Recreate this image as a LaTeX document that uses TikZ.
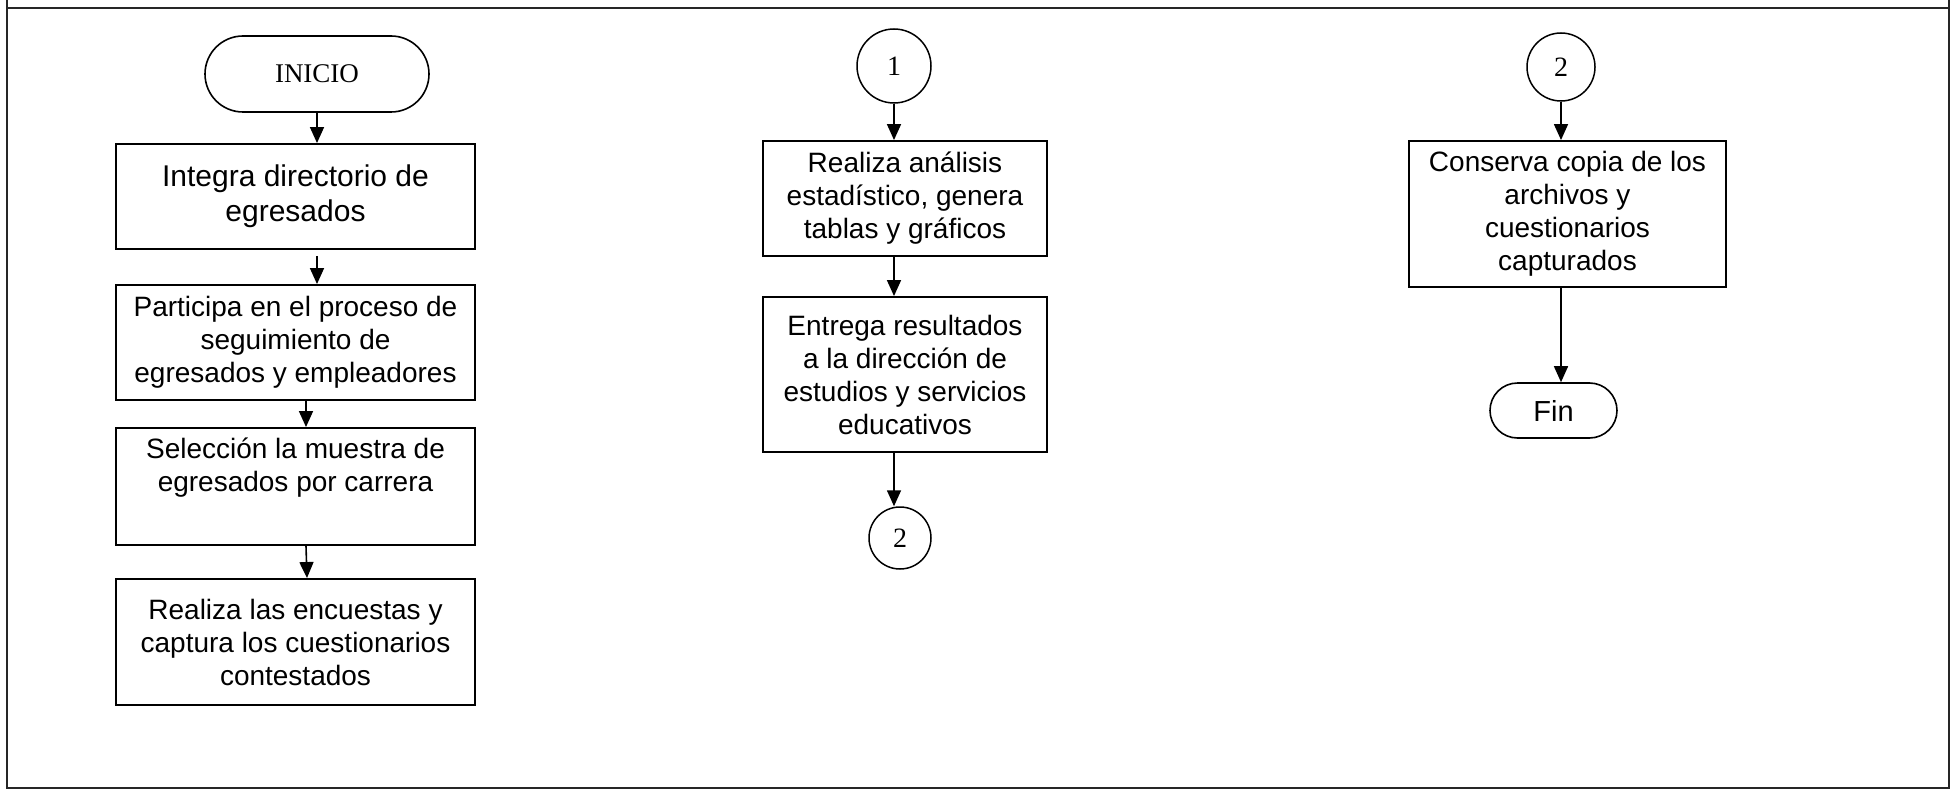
\documentclass[tikz,border=0pt]{standalone}
\usepackage{fontspec}
\setmainfont{Liberation Sans}
\newfontfamily\serifnum{Liberation Serif}
\usetikzlibrary{arrows.meta,shapes.misc}
\begin{document}
\begin{tikzpicture}[x=1pt,y=-1pt,
  frameline/.style={line width=2.6pt, draw=black!85},
  procbox/.style={draw, line width=1.9pt, rectangle, align=center, inner sep=0pt,
    font=\fontsize{28}{33}\selectfont},
  terminal/.style={draw, line width=1.6pt, rounded rectangle, inner sep=0pt},
  connector/.style={draw, circle, line width=1.5pt, inner sep=0pt,
    font=\serifnum\fontsize{28}{30}\selectfont},
  flow/.style={line width=1.6pt, -{Triangle[length=16pt,width=14pt]}}
]
\useasboundingbox (0,0) rectangle (1955,789);

% outer frame
\draw[frameline] (7,0) -- (7,788) -- (1949,788) -- (1949,0);
\draw[frameline] (7,8) -- (1949,8);

% first column
\node[terminal, minimum width=224pt, minimum height=76pt,
      font=\serifnum\fontsize{27}{30}\selectfont] (inicio) at (317,74) {INICIO};
\node[procbox, minimum width=359pt, minimum height=105pt,
      font=\fontsize{30}{35}\selectfont] (box1) at (295.5,196.5)
  {Integra directorio de\\egresados};
\node[procbox, minimum width=359pt, minimum height=115pt] (box2) at (295.5,342.5)
  {Participa en el proceso de\\seguimiento de\\egresados y empleadores};
\node[procbox, minimum width=359pt, minimum height=117pt] (box3) at (295.5,486.5)
  {Selección la muestra de\\egresados por carrera\\\strut};
\node[procbox, minimum width=359pt, minimum height=126pt] (box4) at (295.5,642)
  {Realiza las encuestas y\\captura los cuestionarios\\contestados};

\draw[flow] (inicio.south) -- (inicio.south |- box1.north);
\draw[flow, shorten <=6pt] (inicio.south |- box1.south) -- (inicio.south |- box2.north);
\draw[flow] ([xshift=10.5pt]box2.south) -- ([xshift=10.5pt]box3.north);
\draw[flow] ([xshift=10.5pt]box3.south) -- ([xshift=11.5pt]box4.north);

% second column
\node[connector, minimum size=74pt] (c1) at (894,66) {1};
\node[procbox, minimum width=284pt, minimum height=115pt] (boxA) at (905,198.5)
  {Realiza análisis\\estadístico, genera\\tablas y gráficos};
\node[procbox, minimum width=284pt, minimum height=155pt] (boxB) at (905,374.5)
  {Entrega resultados\\a la dirección de\\estudios y servicios\\educativos};
\node[connector, minimum size=62pt] (c2) at (900,538) {2};

\draw[flow] (c1.south) -- (c1.south |- boxA.north);
\draw[flow] (c1.south |- boxA.south) -- (c1.south |- boxB.north);
\draw[flow] (c1.south |- boxB.south) -- (c1.south |- c2.north);

% third column
\node[connector, minimum size=68pt] (c3) at (1561,67) {2};
\node[procbox, minimum width=317pt, minimum height=146pt] (boxC) at (1567.5,214)
  {Conserva copia de los\\archivos y\\cuestionarios\\capturados};
\node[terminal, minimum width=127pt, minimum height=55pt,
      font=\fontsize{29}{32}\selectfont] (fin) at (1553.5,410.5) {Fin};

\draw[flow] (c3.south) -- (c3.south |- boxC.north);
\draw[flow] (c3.south |- boxC.south) -- (c3.south |- fin.north);
\end{tikzpicture}
\end{document}
